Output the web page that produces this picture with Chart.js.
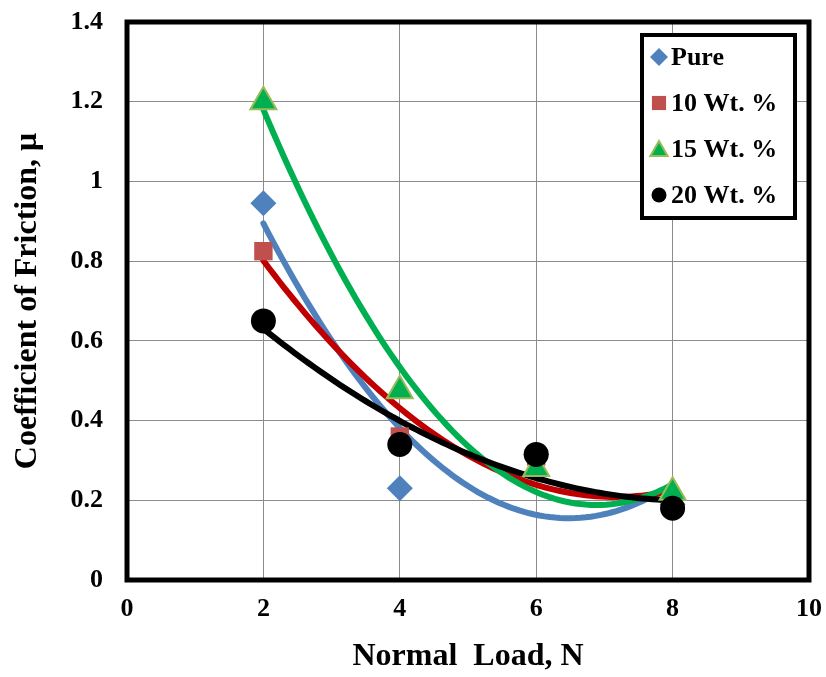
<!DOCTYPE html>
<html>
<head>
<meta charset="utf-8">
<script src="https://cdn.jsdelivr.net/npm/chart.js@4.4.0/dist/chart.umd.min.js"></script>
<style>
    html, body { margin: 0; padding: 0; background: #fff; }
    #wrap { width: 826px; height: 677px; }
</style>
</head>
<body>
<div id="wrap"><canvas id="frictionChart" width="826" height="677"></canvas></div>
<script>
// Values
const loads = [2, 4, 6, 8];
const pure = [0.945, 0.23, 0.315, 0.19];
const wt10 = [0.825, 0.36, 0.31, 0.20];
const wt15 = [1.2, 0.475, 0.28, 0.22];
const wt20 = [0.65, 0.34, 0.315, 0.18];
const seriesNames = ['Pure', '10 Wt. %', '15 Wt. %', '20 Wt. %'];
const xTicks = [0, 2, 4, 6, 8, 10];
const yTicks = [0, 0.2, 0.4, 0.6, 0.8, 1, 1.2, 1.4];

const FONT = '"Liberation Serif", "Times New Roman", serif';

// 2nd order polynomial trendline (least squares), like Excel
function polyFit2(xs, ys) {
    let s = [0, 0, 0, 0, 0], t = [0, 0, 0];
    xs.forEach((x, i) => {
        for (let k = 0; k < 5; k++) s[k] += Math.pow(x, k);
        for (let k = 0; k < 3; k++) t[k] += Math.pow(x, k) * ys[i];
    });
    const m = [
        [s[0], s[1], s[2], t[0]],
        [s[1], s[2], s[3], t[1]],
        [s[2], s[3], s[4], t[2]]
    ];
    for (let c = 0; c < 3; c++) {
        for (let r = c + 1; r < 3; r++) {
            const f = m[r][c] / m[c][c];
            for (let k = c; k < 4; k++) m[r][k] -= f * m[c][k];
        }
    }
    const coef = [0, 0, 0];
    for (let r = 2; r >= 0; r--) {
        let v = m[r][3];
        for (let k = r + 1; k < 3; k++) v -= m[r][k] * coef[k];
        coef[r] = v / m[r][r];
    }
    return coef;
}

function trendPoints(xs, ys) {
    const c = polyFit2(xs, ys);
    const lo = Math.min(...xs), hi = Math.max(...xs);
    const pts = [];
    for (let i = 0; i <= 80; i++) {
        const x = lo + (hi - lo) * i / 80;
        pts.push({ x: x, y: c[0] + c[1] * x + c[2] * x * x });
    }
    return pts;
}

const toPoints = ys => loads.map((x, i) => ({ x: x, y: ys[i] }));

const markerStyles = [
    { pointStyle: 'rectRot', radius: 13, fill: '#4F81BD', border: '#4F81BD', bw: 0, legendRadius: 9 },
    { pointStyle: 'rect', radius: 13, fill: '#C0504D', border: '#C0504D', bw: 0, legendRadius: 10 },
    { pointStyle: 'triangle', radius: 15, fill: '#00B050', border: '#9BBB59', bw: 2, legendRadius: 10 },
    { pointStyle: 'circle', radius: 12.5, fill: '#000000', border: '#000000', bw: 0, legendRadius: 7.5 }
];
const lineColors = ['#4F81BD', '#C00000', '#00B050', '#000000'];
const allSeries = [pure, wt10, wt15, wt20];

const datasets = [];
allSeries.forEach((ys, i) => {
    datasets.push({
        label: seriesNames[i] + ' trend',
        data: trendPoints(loads, ys),
        showLine: true,
        borderColor: lineColors[i],
        borderWidth: 6,
        borderCapStyle: 'round',
        pointRadius: 0,
        pointHoverRadius: 0,
        order: 8 - i
    });
});
allSeries.forEach((ys, i) => {
    const st = markerStyles[i];
    datasets.push({
        label: seriesNames[i],
        data: toPoints(ys),
        showLine: false,
        pointStyle: st.pointStyle,
        pointRadius: st.radius,
        pointHoverRadius: st.radius,
        backgroundColor: st.fill,
        borderColor: st.border,
        pointBorderWidth: st.bw,
        order: 4 - i
    });
});

// Thick frame round the plot area + boxed legend inside it
const frameAndLegend = {
    id: 'frameAndLegend',
    beforeDraw(chart) {
        const ctx = chart.ctx;
        ctx.save();
        ctx.fillStyle = '#fff';
        ctx.fillRect(0, 0, chart.width, chart.height);
        ctx.restore();
    },
    afterDraw(chart) {
        const ctx = chart.ctx;
        const a = chart.chartArea;
        ctx.save();
        ctx.strokeStyle = '#000';
        ctx.lineWidth = 5;
        ctx.strokeRect(a.left, a.top, a.right - a.left, a.bottom - a.top);

        // legend
        const box = { x: 642, y: 35, w: 153, h: 183 };
        ctx.fillStyle = '#fff';
        ctx.fillRect(box.x, box.y, box.w, box.h);
        ctx.lineWidth = 4;
        ctx.strokeRect(box.x, box.y, box.w, box.h);
        ctx.font = 'bold 26px ' + FONT;
        ctx.textBaseline = 'middle';
        seriesNames.forEach((name, i) => {
            const st = markerStyles[i];
            const y = 57 + i * 46;
            ctx.fillStyle = st.fill;
            ctx.strokeStyle = st.border;
            ctx.lineWidth = st.bw;
            Chart.helpers.drawPoint(ctx, {
                pointStyle: st.pointStyle,
                radius: st.legendRadius,
                rotation: 0,
                borderWidth: st.bw
            }, 659, i === 2 ? y + 2 : y);
            ctx.fillStyle = '#000';
            ctx.fillText(name, 671, y + 1);
        });
        ctx.restore();
    }
};

new Chart(document.getElementById('frictionChart'), {
    type: 'scatter',
    data: { datasets: datasets },
    options: {
        responsive: false,
        animation: false,
        devicePixelRatio: 1,
        layout: { padding: { top: 22, right: 16, left: 0, bottom: 0 } },
        plugins: {
            legend: { display: false },
            tooltip: { enabled: false }
        },
        scales: {
            x: {
                type: 'linear',
                min: xTicks[0],
                max: xTicks[xTicks.length - 1],
                afterBuildTicks: s => { s.ticks = xTicks.map(v => ({ value: v })); },
                afterFit: s => {
                    s.height = 97;
                    s.paddingLeft = 0;
                    s.paddingRight = 0;
                },
                grid: { color: '#8c8c8c', lineWidth: 1, drawTicks: false },
                border: { display: false },
                ticks: {
                    padding: 14,
                    color: '#000',
                    font: { family: FONT, size: 26, weight: 'bold' }
                },
                title: {
                    display: true,
                    text: 'Normal  Load, N',
                    color: '#000',
                    padding: { top: 0, bottom: 1 },
                    font: { family: FONT, size: 32, weight: 'bold' }
                }
            },
            y: {
                type: 'linear',
                min: yTicks[0],
                max: yTicks[yTicks.length - 1],
                afterBuildTicks: s => { s.ticks = yTicks.map(v => ({ value: v })); },
                afterFit: s => {
                    s.width = 127;
                    s.paddingTop = 0;
                    s.paddingBottom = 0;
                },
                grid: { color: '#8c8c8c', lineWidth: 1, drawTicks: false },
                border: { display: false },
                ticks: {
                    padding: 24,
                    color: '#000',
                    callback: v => String(Number(v.toFixed(1))),
                    font: { family: FONT, size: 26, weight: 'bold' }
                },
                title: {
                    display: true,
                    text: 'Coefficient of Friction, μ',
                    color: '#000',
                    padding: { top: 9, bottom: 0 },
                    font: { family: FONT, size: 32, weight: 'bold' }
                }
            }
        }
    },
    plugins: [frameAndLegend]
});
</script>
</body>
</html>
